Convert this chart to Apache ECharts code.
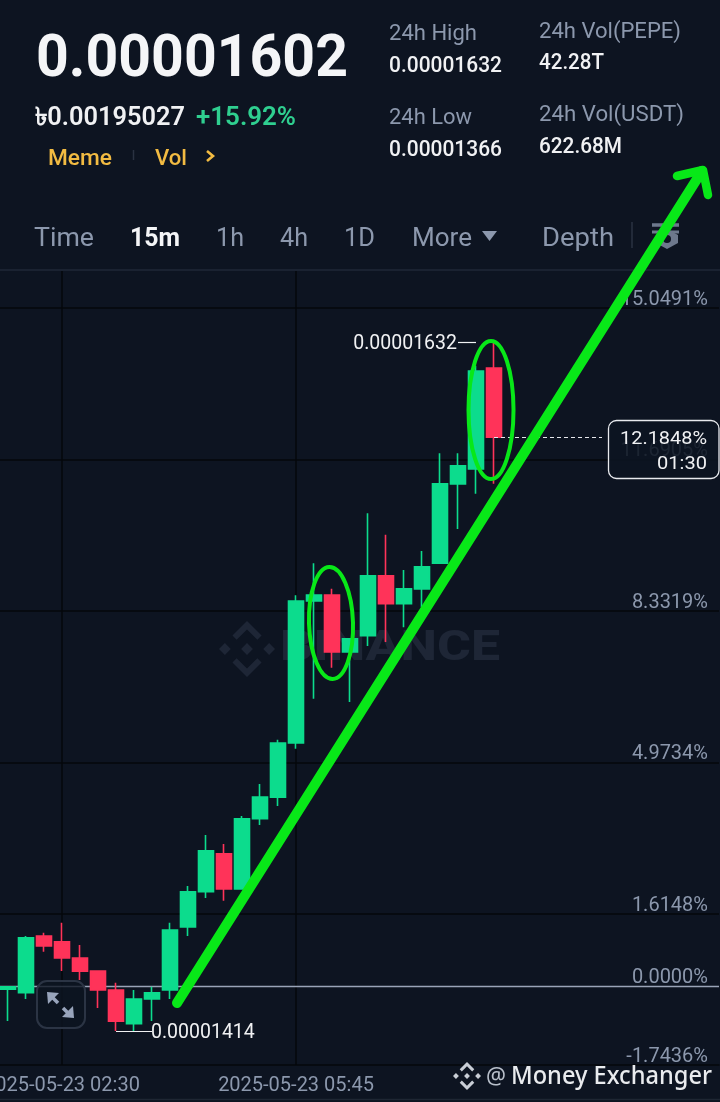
<!DOCTYPE html>
<html><head><meta charset="utf-8">
<style>html,body{margin:0;padding:0;background:#0d1421}#c{width:720px;height:1102px}</style>
<script src="https://cdn.jsdelivr.net/npm/echarts@6/dist/echarts.min.js"></script>
</head><body><div id="c"></div>
<script>
// candle data, percent change from the 0.0000% baseline
const times = ['2025-05-23 01:45','2025-05-23 02:00','2025-05-23 02:15','2025-05-23 02:30','2025-05-23 02:45','2025-05-23 03:00','2025-05-23 03:15','2025-05-23 03:30','2025-05-23 03:45','2025-05-23 04:00','2025-05-23 04:15','2025-05-23 04:30','2025-05-23 04:45','2025-05-23 05:00','2025-05-23 05:15','2025-05-23 05:30','2025-05-23 05:45','2025-05-23 06:00','2025-05-23 06:15','2025-05-23 06:30','2025-05-23 06:45','2025-05-23 07:00','2025-05-23 07:15','2025-05-23 07:30','2025-05-23 07:45','2025-05-23 08:00','2025-05-23 08:15','2025-05-23 08:30'];
const opens  = [-0.06,-0.14,1.12,0.99,0.63,0.34,-0.08,-0.83,-0.28,-0.08,1.32,2.10,2.94,2.16,3.72,4.20,5.40,8.55,8.68,7.42,7.78,9.11,8.49,8.82,9.39,11.15,11.48,13.72];
const closes = [-0.01,1.08,0.90,0.63,0.34,-0.08,-0.77,-0.28,-0.14,1.25,2.10,3.01,2.16,3.72,4.20,5.40,8.55,8.68,7.42,7.71,9.11,8.49,8.82,9.31,11.15,11.55,13.65,12.1848];
const lows   = [-0.77,-0.28,0.77,0.34,0.14,-0.48,-0.99,-0.99,-0.77,-0.28,1.12,1.96,1.90,2.16,3.58,4.00,5.27,6.38,7.07,6.31,7.55,7.64,7.97,8.42,9.39,10.15,10.93,11.15];
const highs  = [-0.01,1.12,1.19,1.41,0.92,0.34,0.08,-0.08,-0.01,1.41,2.23,3.36,3.16,3.78,4.49,5.47,8.68,9.39,8.82,7.71,10.50,10.02,9.24,9.66,11.83,11.83,13.77,14.30];
const tickValues = [-1.7436,0,1.6148,4.9734,8.3319,11.6905,15.0491];
const gridValues = [1.6148,4.9734,8.3319,11.6905,15.0491];
const timeLabels = ['2025-05-23 02:30','2025-05-23 05:45'];
const lastPct = 12.1848;
const highLabel = '0.00001632', lowLabel = '0.00001414';
const lowIndex = 6, highIndex = 27;

const BG='#0d1421', GREEN='#0cdc8d', RED='#ff3359', GREY='#8c98ad', LINE='#05070b', ARROW='#08e818';
const categories = times.concat(new Array(12).fill(''));
const candles = times.map((t,i)=>[opens[i],closes[i],lows[i],highs[i]]);

const ctx = document.createElement('canvas').getContext('2d');
function T(str,x,y,font,fill,width,align){
  ctx.font = font;
  const sx = width ? width/ctx.measureText(str).width : 1;
  return {type:'text',x,y:y+2,scaleX:sx,z:200,silent:true,style:{text:str,font,fill,align:align||'left',verticalAlign:'middle'}};
}
function logo(cx,cy,s,fill,z){
  const P=(pts)=>({type:'polygon',z,silent:true,shape:{points:pts.map(p=>[cx+p[0]*s,cy+p[1]*s])},style:{fill}});
  const D=(a,b,r)=>P([[a,b-r],[a+r,b],[a,b+r],[a-r,b]]);
  const chev=k=>[[0,-1*k],[0.52,-0.48*k],[0.37,-0.33*k],[0,-0.70*k],[-0.37,-0.33*k],[-0.52,-0.48*k]];
  return [P(chev(1)),P(chev(-1)),D(0,0,0.21),D(-0.79,0,0.21),D(0.79,0,0.21)];
}
const RB='400 22.5px Roboto', RV='500 21.5px Roboto', TAB='400 26px Roboto';
const gfx = [].concat(
  // watermark
  logo(247,649,28,'#1e2636',1),
  [T('BINANCE',280,647,'800 42px Roboto','#1e2636',220)].map(o=>Object.assign(o,{z:1})),
  // frame lines
  [{type:'line',z:1,silent:true,shape:{x1:0,y1:270,x2:720,y2:270},style:{stroke:'#1a2231',lineWidth:2}},
   {type:'line',z:1,silent:true,shape:{x1:0,y1:1099.5,x2:720,y2:1099.5},style:{stroke:'#1e2633',lineWidth:1.5}}],
  // header
  [T('0.00001602',36,59,'700 59px Roboto','#f4f5f7',312),
   T('৳0.00195027',35,117,'600 25px Roboto','#f0f1f3',150),
   T('+15.92%',196,117,'600 25px Roboto','#2fcf90',100),
   T('Meme',48,157,'500 22px Roboto','#f2bb42',64),
   T('Vol',155,157,'500 22px Roboto','#f2bb42',32),
   {type:'line',z:200,silent:true,shape:{x1:133.5,y1:150,x2:133.5,y2:160},style:{stroke:'#2a3242',lineWidth:1.5}},
   {type:'polyline',z:200,silent:true,shape:{points:[[207,151],[213,156],[207,161]]},style:{stroke:'#f2bb42',lineWidth:2.6,fill:'none'}},
   T('24h High',389,32,RB,GREY,88),
   T('0.00001632',389,65,RV,'#f0f1f3',113),
   T('24h Low',389,116,RB,GREY,83),
   T('0.00001366',389,149,RV,'#f0f1f3',113),
   T('24h Vol(PEPE)',539,30,RB,GREY,142),
   T('42.28T',539,62,RV,'#f0f1f3',65),
   T('24h Vol(USDT)',539,113,RB,GREY,145),
   T('622.68M',539,146,RV,'#f0f1f3',83),
   T('Time',34,237,TAB,GREY,60),
   T('15m',130,237,'700 26px Roboto','#f4f5f7',50),
   T('1h',216,237,TAB,GREY,28),
   T('4h',280,237,TAB,GREY,28),
   T('1D',344,237,TAB,GREY,31),
   T('More',412,237,TAB,GREY,60),
   {type:'polygon',z:200,silent:true,shape:{points:[[482,231],[497,231],[489.5,241]]},style:{fill:GREY}},
   T('Depth',542,237,TAB,GREY,72),
   {type:'line',z:200,silent:true,shape:{x1:632,y1:222,x2:632,y2:248},style:{stroke:'#2a3242',lineWidth:1.5}},
   // settings icon
   {type:'line',z:170,silent:true,shape:{x1:652,y1:225,x2:679,y2:225},style:{stroke:'#6d788c',lineWidth:3.5}},
   {type:'line',z:170,silent:true,shape:{x1:652,y1:232,x2:679,y2:232},style:{stroke:'#6d788c',lineWidth:3}},
   {type:'polygon',z:170,silent:true,shape:{points:[[667,229],[678,235],[678,243],[667,249],[656,243],[656,235]]},style:{fill:'#6d788c'}},
   {type:'circle',z:170,silent:true,shape:{cx:667,cy:239,r:4},style:{fill:BG}}],
  // expand button
  [{type:'rect',z:150,silent:true,shape:{x:37,y:981,width:48,height:47,r:10},style:{fill:'rgba(13,20,33,0.8)',stroke:'#2b3444',lineWidth:2}},
   {type:'line',z:151,silent:true,shape:{x1:51,y1:996,x2:58,y2:1003},style:{stroke:'#98a4bb',lineWidth:3.5}},
   {type:'polygon',z:151,silent:true,shape:{points:[[47,992],[59,993],[48,1004]]},style:{fill:'#98a4bb'}},
   {type:'line',z:151,silent:true,shape:{x1:63,y1:1008,x2:70,y2:1015},style:{stroke:'#98a4bb',lineWidth:3.5}},
   {type:'polygon',z:151,silent:true,shape:{points:[[74,1018],[62,1017],[73,1006]]},style:{fill:'#98a4bb'}}],
  // price box
  [{type:'rect',z:160,silent:true,shape:{x:608.5,y:420.5,width:110.5,height:58,r:8},style:{fill:'rgba(13,20,33,0.88)',stroke:'#e8eaee',lineWidth:1.3}},
   T('12.1848%',707,437,'400 18.5px Roboto','#f0f1f3',87,'right'),
   T('01:30',707,462,'400 18.5px Roboto','#f0f1f3',50,'right')],
  // hand-drawn annotations
  [{type:'ellipse',z:180,silent:true,rotation:0.03,x:331,y:623,shape:{cx:0,cy:0,rx:22,ry:56},style:{fill:'none',stroke:ARROW,lineWidth:4}},
   {type:'ellipse',z:180,silent:true,rotation:0.0,x:491,y:410,shape:{cx:0,cy:0,rx:22.5,ry:69},style:{fill:'none',stroke:ARROW,lineWidth:4}},
   {type:'polyline',z:181,silent:true,shape:{points:[[177,1003],[702,171]]},style:{stroke:ARROW,lineWidth:10,lineCap:'round',fill:'none'}},
   {type:'polyline',z:181,silent:true,shape:{points:[[677,176],[703,170],[708,195]]},style:{stroke:ARROW,lineWidth:8.5,lineCap:'round',lineJoin:'round',fill:'none'}}],
  // footer
  logo(467,1076,14,'#c9ced6',200),
  [T('@',486,1075,'400 24px "Noto Sans"','#b9c0cb',20),
   T('Money Exchanger',511,1075,'500 25px "Noto Sans"','#e9ebee',201)]
);

const chart = echarts.init(document.getElementById('c'),null,{renderer:'canvas'});
chart.setOption({
  animation:false,
  backgroundColor:BG,
  grid:{left:-1,right:1,top:270,bottom:37,containLabel:false,outerBoundsMode:'none'},
  xAxis:{type:'category',data:categories,boundaryGap:true,
    axisLine:{show:true,onZero:false,lineStyle:{color:LINE,width:1.5}},axisTick:{show:false},splitLine:{show:false},
    axisLabel:{color:GREY,fontFamily:'Roboto',fontSize:20,margin:11,hideOverlap:false,
      interval:(i,v)=>timeLabels.indexOf(v)>=0}},
  yAxis:{type:'value',position:'right',min:-1.7436,max:15.894,scale:true,
    axisLine:{show:false},axisTick:{show:false},splitLine:{show:false},
    axisLabel:{inside:true,margin:11,color:GREY,fontFamily:'Roboto',fontSize:20,lineHeight:16,verticalAlign:'bottom',align:'right',
      customValues:tickValues,showMinLabel:true,showMaxLabel:true,formatter:v=>v.toFixed(4)+'%'}},
  series:[
    {type:'line',data:[],z:0,silent:true,markLine:{silent:true,z:0,symbol:'none',animation:false,label:{show:false},
      data:gridValues.map(v=>({yAxis:v,lineStyle:{color:LINE,width:1.5,type:'solid'}}))
        .concat(timeLabels.map(t=>({xAxis:times.indexOf(t),lineStyle:{color:LINE,width:1.5,type:'solid'}})))
        .concat([{yAxis:0,lineStyle:{color:'#9aa4b8',width:1.3,type:'solid'}}])}},
    {type:'candlestick',z:2,data:candles,barWidth:15,silent:true,
      itemStyle:{color:GREEN,color0:RED,borderColor:GREEN,borderColor0:RED,borderWidth:1.6},
      markLine:{silent:true,z:3,symbol:'none',animation:false,
        data:[
          [{coord:[highIndex,lastPct],lineStyle:{color:'#e6e8ec',width:1,type:[4,3]},label:{show:false}},{coord:[33.2,lastPct]}],
          [{coord:[highIndex-2,highs[highIndex]],lineStyle:{color:'#f0f1f3',width:1.2,type:'solid'},
            label:{show:true,position:'start',formatter:highLabel,color:'#f0f1f3',fontFamily:'Roboto',fontSize:19.5,distance:2,offset:[1,2]}},{coord:[highIndex-0.7,highs[highIndex]]}],
          [{coord:[lowIndex,lows[lowIndex]],lineStyle:{color:'#f0f1f3',width:1.2,type:'solid'},
            label:{show:true,position:'end',formatter:lowLabel,color:'#f0f1f3',fontFamily:'Roboto',fontSize:19.5,distance:2,offset:[-3,2]}},{coord:[lowIndex+2,lows[lowIndex]]}]
        ]}}
  ],
  graphic:{elements:gfx}
});
</script></body></html>
